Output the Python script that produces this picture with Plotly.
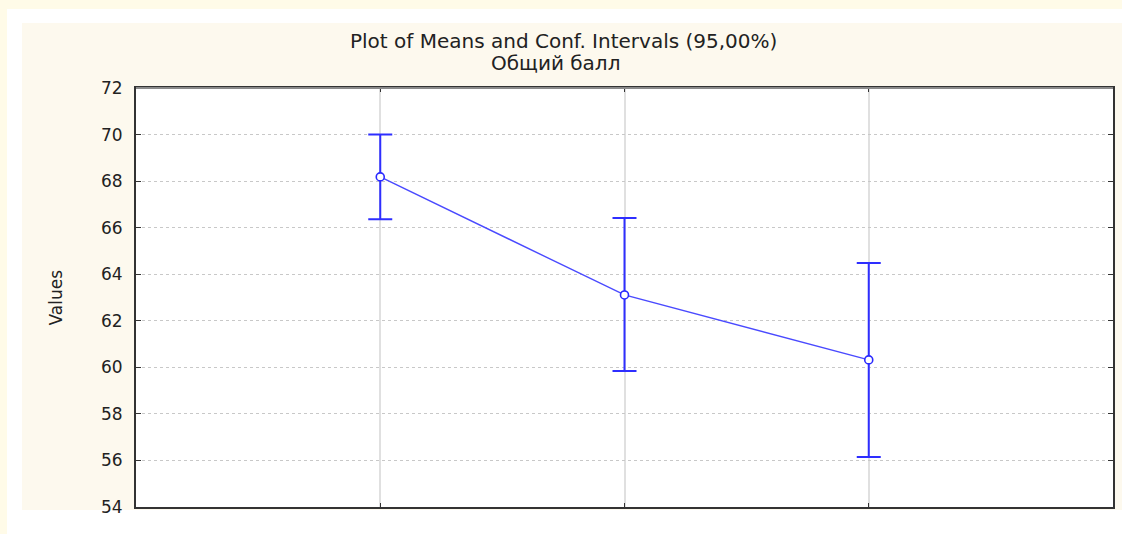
import plotly.graph_objects as go

# ---- data ----
groups = [1, 2, 3]
means = [68.18, 63.11, 60.32]
lower = [66.36, 59.84, 56.15]
upper = [70.00, 66.42, 64.48]
y_ticks = [54, 56, 58, 60, 62, 64, 66, 68, 70, 72]

title_line1 = "Plot of Means and Conf. Intervals (95,00%)"
title_line2 = "Общий балл"
y_title = "Values"

W, H = 1122, 534
L, R, T, B = 136, 9, 88, 27
PW, PH = W - L - R, H - T - B


def px_x(px):
    return (px - L) / PW


def px_y(py):
    return (H - B - py) / PH


err_plus = [u - m for u, m in zip(upper, means)]
err_minus = [m - l for m, l in zip(means, lower)]

FONT = "DejaVu Sans"
TXT = "#222222"

fig = go.Figure()
fig.add_trace(go.Scatter(
    x=groups, y=means, mode="lines+markers",
    line=dict(color="#4a4aff", width=1.4),
    marker=dict(symbol="circle", size=8, color="white",
                line=dict(color="#2a2aff", width=1.6)),
    error_y=dict(type="data", symmetric=False, array=err_plus,
                 arrayminus=err_minus, color="#2e2eff",
                 thickness=2, width=12),
    showlegend=False, hoverinfo="x+y",
))

shapes = [
    # white frame
    dict(type="rect", xref="paper", yref="paper", x0=px_x(7), x1=px_x(1122),
         y0=px_y(534), y1=px_y(9), fillcolor="white", line=dict(width=0),
         layer="below"),
    # beige panel
    dict(type="rect", xref="paper", yref="paper", x0=px_x(22), x1=px_x(1122),
         y0=px_y(510), y1=px_y(23), fillcolor="#fdf9ee", line=dict(width=0),
         layer="below"),
    # white plotting area
    dict(type="rect", xref="paper", yref="paper", x0=0, x1=1, y0=0, y1=1,
         fillcolor="white", line=dict(width=0), layer="below"),
    # top border (gray)
    dict(type="line", xref="paper", yref="paper", x0=0, x1=1, y0=1, y1=1,
         line=dict(color="#8a8a8a", width=2), layer="above"),
]

annotations = [
    dict(text=title_line1, xref="paper", yref="paper", x=px_x(563), y=px_y(41),
         showarrow=False, font=dict(family=FONT, size=20, color=TXT),
         xanchor="center", yanchor="middle"),
    dict(text=title_line2, xref="paper", yref="paper", x=px_x(555), y=px_y(63),
         showarrow=False, font=dict(family=FONT, size=20, color=TXT),
         xanchor="center", yanchor="middle"),
    dict(text=y_title, xref="paper", yref="paper", x=px_x(55), y=0.5,
         textangle=-90, showarrow=False,
         font=dict(family=FONT, size=17, color=TXT),
         xanchor="center", yanchor="middle"),
]

fig.update_layout(
    width=W, height=H,
    margin=dict(l=L, r=R, t=T, b=B, autoexpand=False),
    paper_bgcolor="#fffbe8",
    plot_bgcolor="white",
    shapes=shapes,
    annotations=annotations,
    font=dict(family=FONT, color=TXT),
)

fig.update_xaxes(
    range=[0, 4], tickvals=groups, showticklabels=False,
    showgrid=True, gridcolor="#e0e0e0", gridwidth=1.5,
    zeroline=False, showline=True, linecolor="#333333", linewidth=2,
    mirror="ticks", ticks="inside", ticklen=4, tickcolor="#333333",
)
fig.update_yaxes(
    range=[54, 72], tickvals=y_ticks, ticktext=[str(v) for v in y_ticks],
    showgrid=True, gridcolor="#c8c8c8", gridwidth=1, griddash="dot",
    zeroline=False, showline=True, linecolor="#333333", linewidth=2,
    mirror="ticks", ticks="inside", ticklen=5, tickcolor="#333333",
    tickfont=dict(family=FONT, size=17, color=TXT), ticklabelstandoff=8,
)

fig.write_html("out.html",
               config={"displayModeBar": False},
               post_script="document.body.style.margin='0';"
                           "document.body.style.overflow='hidden';")
